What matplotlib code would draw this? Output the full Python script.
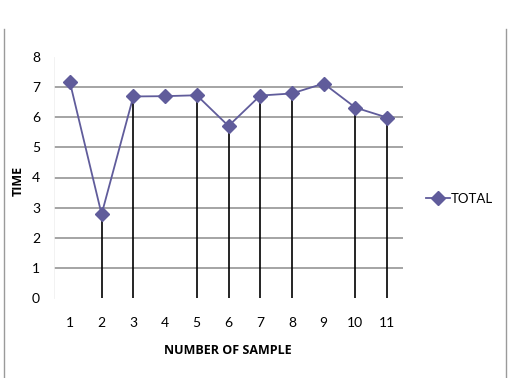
import matplotlib
matplotlib.use("Agg")
import matplotlib.pyplot as plt
from matplotlib.lines import Line2D

samples = ["1", "2", "3", "4", "5", "6", "7", "8", "9", "10", "11"]
total = [7.17, 2.78, 6.69, 6.70, 6.73, 5.71, 6.72, 6.79, 7.12, 6.32, 5.99]
stem_samples = [2, 3, 5, 6, 7, 8, 10, 11]
y_ticks = [0, 1, 2, 3, 4, 5, 6, 7, 8]

W, H, DPI = 508, 378, 100
fig = plt.figure(figsize=(W / DPI, H / DPI), dpi=DPI)
ax = fig.add_axes([54 / W, 1 - 298 / H, (403 - 54) / W, (298 - 57) / H])

xs = list(range(1, len(samples) + 1))
line_color = "#605c9b"

for y in y_ticks[1:-1]:
    ax.axhline(y, color="#8c8c8c", lw=1.1, zorder=1)

for s in stem_samples:
    ax.plot([s, s], [0, total[s - 1]], color="black", lw=1.2, zorder=2)

ax.plot(xs, total, color=line_color, lw=1.3, marker="D", markersize=7,
        markerfacecolor=line_color, markeredgecolor=line_color, zorder=3)

ax.set_xlim(0.5, len(samples) + 0.5)
ax.set_ylim(0, 8)
ax.set_yticks(y_ticks)
ax.set_xticks(xs)
ax.set_xticklabels(samples)
tick_font = "Lato"
for lab in ax.get_xticklabels() + ax.get_yticklabels():
    lab.set_family([tick_font, "DejaVu Sans"])
    lab.set_fontsize(10)
ax.tick_params(axis="both", length=0)
ax.tick_params(axis="x", pad=14)
ax.tick_params(axis="y", pad=10)
for sp in ["top", "right", "bottom"]:
    ax.spines[sp].set_visible(False)
ax.spines["left"].set_color("#f0f0f0")
ax.spines["left"].set_linewidth(0.6)

fig.text(18 / W, 1 - 181 / H, "TIME", rotation=90, ha="center", va="center",
         fontsize=9, fontweight="bold", family=["Open Sans", "DejaVu Sans"])
fig.text(228 / W, 1 - 351 / H, "NUMBER OF SAMPLE", ha="center", va="center",
         fontsize=9, fontweight="bold", family=["Open Sans", "DejaVu Sans"])

handle = Line2D([], [], color=line_color, lw=1.3, marker="D", markersize=7,
                markerfacecolor=line_color, markeredgecolor=line_color)
leg = fig.legend([handle], ["TOTAL"], loc="center left",
                 bbox_to_anchor=(414 / W, 1 - 199 / H), frameon=False,
                 handlelength=1.8, handletextpad=0.1,
                 prop={"family": [tick_font, "DejaVu Sans"], "size": 9.5})

fig.add_artist(Line2D([3.5 / W, 3.5 / W], [0, 1 - 29 / H], color="#9a9a9a", lw=1.0))
fig.add_artist(Line2D([505.5 / W, 505.5 / W], [0, 1 - 29 / H], color="#9a9a9a", lw=1.0))

fig.savefig("out.png", dpi=DPI)
